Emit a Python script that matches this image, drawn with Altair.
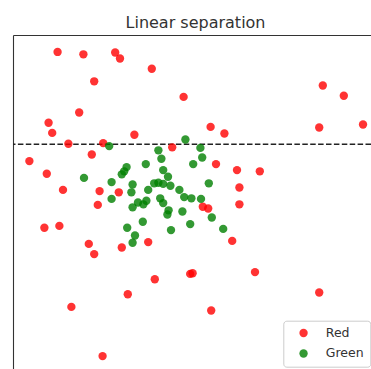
import altair as alt
import pandas as pd

red_x = [-2.29, -1.86, -1.33, -1.25, -0.72, -1.68, 2.13, 2.48, -0.19, -1.93,
         -2.44, -2.38, 0.26, 0.49, 2.07, 2.80, -1.01, -2.11, -1.53, -0.38,
         -1.72, -2.76, -2.47, 0.35, 0.70, 1.08, -2.20, -1.59, -1.27, 0.74,
         -1.62, 0.13, 0.22, 0.74, -2.51, -2.26, -1.77, -1.22, -0.78, 0.62,
         -1.68, -0.67, -0.08, -0.04, 1.00, -1.12, 2.07, -2.06, 0.27, -1.54]
red_y = [1.54, 1.50, 1.53, 1.43, 1.26, 1.05, 0.98, 0.81, 0.79, 0.53,
         0.36, 0.19, 0.29, 0.18, 0.28, 0.33, 0.16, 0.01, 0.02, -0.05,
         -0.17, -0.28, -0.49, -0.33, -0.43, -0.45, -0.76, -0.78, -0.80, -0.72,
         -1.01, -1.04, -1.07, -1.00, -1.39, -1.36, -1.66, -1.72, -1.63, -1.61,
         -1.83, -2.25, -2.16, -2.15, -2.13, -2.50, -2.47, -2.71, -2.77, -3.53]

green_x = [-0.16, -1.43, 0.09, -0.61, -0.56, 0.12, -0.03, -0.82, -1.14, -1.18,
           -1.22, -0.53, -0.45, -1.85, -1.39, 0.23, -1.04, -0.68, -0.61, -0.53,
           -0.41, -0.78, -1.06, -0.26, -0.18, -0.06, 0.10, -1.39, -0.58, -0.81,
           -0.95, -0.86, -0.53, -1.04, -0.44, -0.46, -0.21, 0.28, -0.87, -0.08,
           -1.13, 0.47, -0.40, -1.00, -1.04]
green_y = [0.08, -0.03, -0.06, -0.10, -0.24, -0.22, -0.33, -0.33, -0.38, -0.45,
           -0.50, -0.43, -0.54, -0.56, -0.63, -0.65, -0.67, -0.65, -0.64, -0.66,
           -0.69, -0.76, -0.80, -0.76, -0.88, -0.90, -0.91, -0.91, -0.90, -0.94,
           -0.97, -1.00, -0.98, -1.05, -1.10, -1.17, -1.12, -1.22, -1.29, -1.33,
           -1.39, -1.41, -1.43, -1.52, -1.64]

classes = ["Red", "Green"]
class_colors = ["red", "green"]
separation_y = [0.0]

x_domain = [-3.033, 2.933]
y_domain = [-3.745, 1.822]

df = pd.DataFrame({
    "x": red_x + green_x,
    "y": red_y + green_y,
    "label": ["Red"] * len(red_x) + ["Green"] * len(green_x),
})
sep = pd.DataFrame({"y": separation_y})

W, H = 358, 334
FONT = "DejaVu Sans"

xs = alt.Scale(domain=x_domain, nice=False, zero=False)
ys = alt.Scale(domain=y_domain, nice=False, zero=False)
x_axis = alt.Axis(orient="top", labels=False, ticks=False, grid=False, title=None,
                  domainColor="#333333", domainWidth=1.1, minExtent=0, maxExtent=0)
y_axis = alt.Axis(orient="left", labels=False, ticks=False, grid=False, title=None,
                  domainColor="#333333", domainWidth=1.1, minExtent=0, maxExtent=0)

points = alt.Chart(df).mark_circle(size=70, opacity=0.8, clip=True).encode(
    x=alt.X("x:Q", scale=xs, axis=x_axis),
    y=alt.Y("y:Q", scale=ys, axis=y_axis),
    color=alt.Color(
        "label:N",
        scale=alt.Scale(domain=classes, range=class_colors),
        legend=alt.Legend(
            orient="none", legendX=270.3, legendY=285.7, title=None,
            fillColor="rgba(255,255,255,0.8)", strokeColor="#cccccc",
            cornerRadius=3, padding=6, symbolOffset=8, labelOffset=16,
            labelFontSize=12.5, labelFont=FONT, labelColor="#333333",
            symbolSize=70, symbolType="circle", rowPadding=7.5,
            symbolOpacity=0.8, symbolStrokeWidth=0,
        ),
    ),
)

line = alt.Chart(sep).mark_rule(color="#222222", strokeWidth=1.5,
                                strokeDash=[5.5, 2.4]).encode(
    y=alt.Y("y:Q", scale=ys)
)

chart = alt.layer(line, points).properties(
    width=W, height=H,
    title=alt.TitleParams("Linear separation", font=FONT, fontSize=16,
                          fontWeight="normal", color="#333333",
                          anchor="middle", dx=3.5, dy=16, offset=7,
                          baseline="alphabetic"),
    autosize=alt.AutoSizeParams(type="none"),
    padding={"left": 13, "top": 35, "right": 0, "bottom": 0},
    background="white",
).configure_view(stroke=None)

chart.save("out.html", embed_options={"renderer": "svg", "actions": False})
